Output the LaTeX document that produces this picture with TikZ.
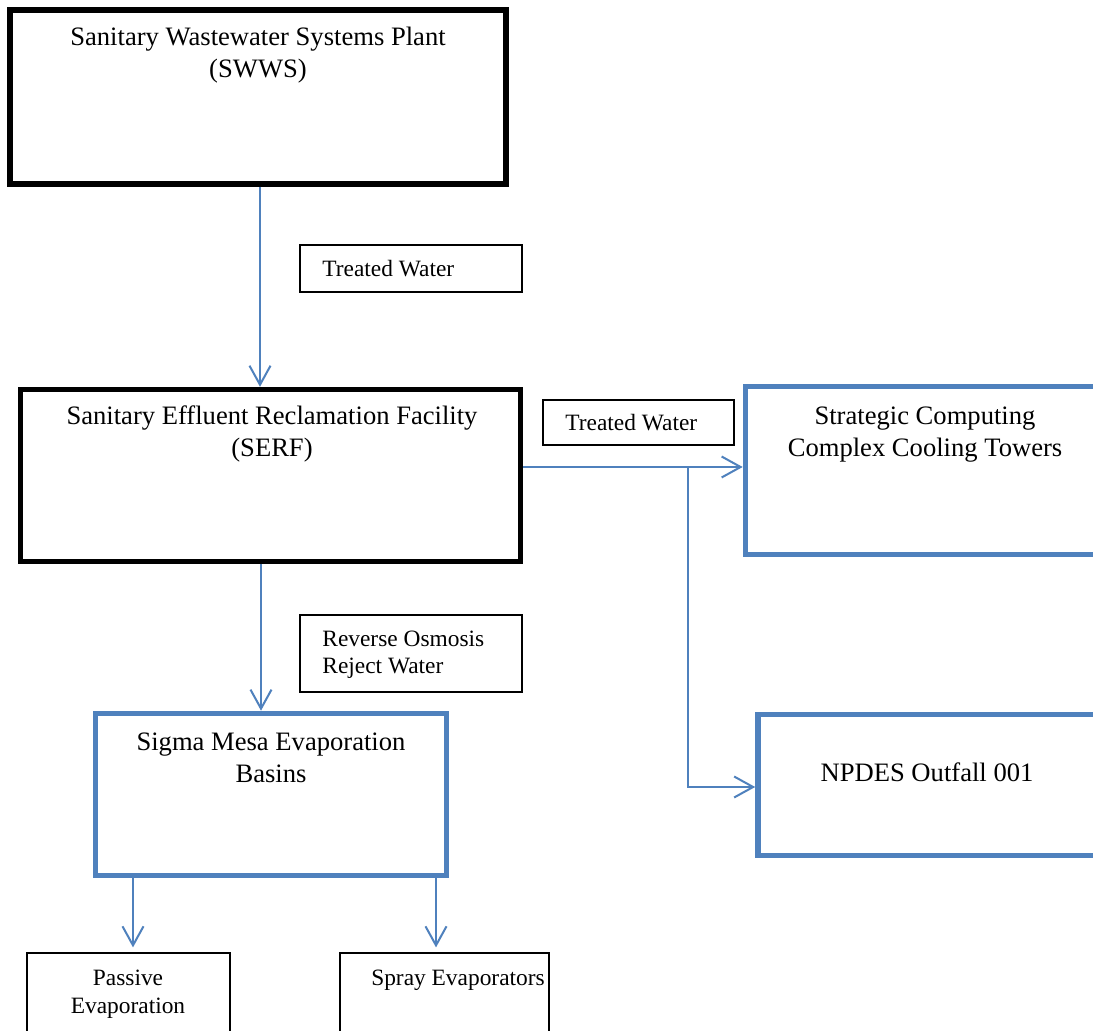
\documentclass[tikz,border=0pt]{standalone}
\usepackage{fontspec}
\setmainfont{Liberation Serif}
\usetikzlibrary{arrows.meta,calc}
\definecolor{ofblue}{RGB}{79,129,189}
\begin{document}
\begin{tikzpicture}[x=0.5pt,y=-0.5pt,
  boxblack/.style={draw=black,line width=2.7pt,inner sep=0pt},
  boxblue/.style={draw=ofblue,line width=2.8pt,inner sep=0pt},
  tagbox/.style={draw=black,line width=0.6pt,inner sep=0pt},
  maintext/.style={font=\fontsize{13.3}{16}\selectfont,align=center,inner sep=0pt,anchor=north},
  mainline/.style={font=\fontsize{13.3}{16}\selectfont,inner sep=0pt,anchor=base},
  tagtext/.style={font=\fontsize{11.7}{13.5}\selectfont,align=left,inner sep=0pt,anchor=north west},
  tagline/.style={font=\fontsize{11.7}{13.5}\selectfont,inner sep=0pt},
  flow/.style={draw=ofblue,line width=1pt,-{Straight Barb[length=9.5pt,width=10.5pt]}}]
\useasboundingbox (0,0) rectangle (1093,1031);
\clip (0,0) rectangle (1093,1031);
\fill[white] (0,0) rectangle (1093,1031);

% main boxes
\node[boxblack,minimum width=248pt,minimum height=87pt] (swws) at (258,97) {};
\node[maintext] (swwst) at (258,22.6) {\strut Sanitary Wastewater Systems Plant\\(SWWS)};

\node[boxblack,minimum width=250pt,minimum height=86pt] (serf) at (270.5,475.5) {};
\node[maintext] (serft) at (272,401.6) {\strut Sanitary Effluent Reclamation Facility\\(SERF)};

\node[boxblue,minimum width=182.25pt,minimum height=84pt] (cool) at (927.75,470.5) {};
\node[maintext] (coolt) at (925,401.6) {\strut Strategic Computing\\Complex Cooling Towers};

\node[boxblue,minimum width=176pt,minimum height=70.5pt] (npdes) at (934,785) {};
\node[mainline] (npdest) at (927,782) {NPDES Outfall 001};

\node[boxblue,minimum width=175.5pt,minimum height=81pt] (sigma) at (271,794.5) {};
\node[maintext] (sigmat) at (271,727.6) {\strut Sigma Mesa Evaporation\\Basins};

% label boxes
\node[tagbox,minimum width=111pt,minimum height=23.5pt] (tag1) at (411,268.5) {};
\node[tagline,anchor=base west] (tag1t) at (322,277) {Treated Water};

\node[tagbox,minimum width=95.5pt,minimum height=22.5pt] (tag2) at (638.5,422.5) {};
\node[tagline,anchor=base west] (tag2t) at (565,431) {Treated Water};

\node[tagbox,minimum width=111pt,minimum height=38.5pt] (tag3) at (411,653.5) {};
\node[tagtext] (tag3t) at (322,627.1) {\strut Reverse Osmosis\\Reject Water};

% bottom boxes
\node[tagbox,minimum width=101.5pt,minimum height=73.5pt] (passive) at (128.5,1026.5) {};
\node[tagtext,font=\fontsize{11.7}{14}\selectfont,align=center,anchor=north] (passivet) at (128,965.4) {\strut Passive\\Evaporation};

\node[tagbox,minimum width=104.5pt,minimum height=73.5pt] (spray) at (444.5,1026.5) {};
\node[tagline,anchor=base] (sprayt) at (458,985) {Spray Evaporators};

% connectors
\coordinate (wx) at (260,0);
\draw[flow] (swws.south -| wx) -- (serf.north -| wx);
\coordinate (sx) at (261,0);
\draw[flow] (serf.south -| sx) -- (sigma.north -| sx);
\coordinate (ty) at (0,467);
\draw[flow] (serf.east |- ty) -- (cool.west |- ty);
\coordinate (br) at (688,467);
\coordinate (ny) at (0,787);
\draw[flow] (br) |- (npdes.west |- ny);
\coordinate (pa) at (133,0);
\draw[flow,shorten >=2.5pt] (sigma.south -| pa) -- (passive.north -| pa);
\coordinate (sp) at (436,0);
\draw[flow,shorten >=2.5pt] (sigma.south -| sp) -- (spray.north -| sp);
\end{tikzpicture}
\end{document}
